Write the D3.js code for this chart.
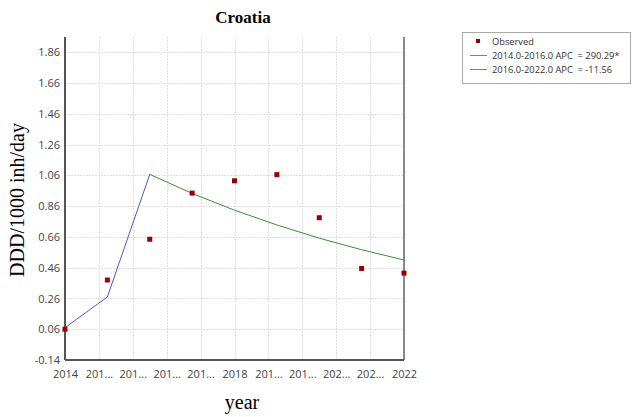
<!DOCTYPE html>
<meta charset="utf-8">
<html>
<head>
<script src="https://d3js.org/d3.v7.min.js" charset="utf-8"></script>
<style type="text/css">
    body { margin: 0; background: #fff; }
    .axis path, .axis line { fill: none; stroke: #555; shape-rendering: crispEdges; }
    .axis text { font-family: "Open Sans", sans-serif; font-size: 11px; fill: #444; }
    .grid line { stroke: #dedede; stroke-dasharray: 2,1; shape-rendering: crispEdges; }
    .legend text { font-family: "Open Sans", sans-serif; font-size: 9.3px; fill: #333; white-space: pre; }
</style>
</head>
<body>
<div id="chart"></div>
<script type="text/javascript">
// observed data
var years = [2014, 2015, 2016, 2017, 2018, 2019, 2020, 2021, 2022];
var observed = [0.06, 0.38, 0.645, 0.945, 1.025, 1.065, 0.785, 0.455, 0.425];

// fitted joinpoint segments
var seg1Years = [2014, 2015, 2016];
var seg1Values = [0.07, 0.27, 1.067];
var seg2Years = [2016, 2017, 2018, 2019, 2020, 2021, 2022];
var seg2Values = [1.067, 0.943, 0.834, 0.738, 0.652, 0.577, 0.51];

// axis ticks
var xTicks = [2014, 2014.8, 2015.6, 2016.4, 2017.2, 2018, 2018.8, 2019.6, 2020.4, 2021.2, 2022];
var xTickLabels = ["2014", "201...", "201...", "201...", "201...", "2018", "201...", "201...", "202...", "202...", "2022"];
var yTicks = [-0.14, 0.06, 0.26, 0.46, 0.66, 0.86, 1.06, 1.26, 1.46, 1.66, 1.86];

var legendLabels = ["Observed", "2014.0-2016.0 APC  = 290.29*", "2016.0-2022.0 APC  = -11.56"];

var canvas_width = 633;
var canvas_height = 417;
var plotLeft = 65, plotRight = 404, plotTop = 37, plotBottom = 360;

var svg = d3.select("#chart").append("svg")
    .attr("width", canvas_width)
    .attr("height", canvas_height);

var xScale = d3.scaleLinear().domain([2014, 2022]).range([plotLeft, plotRight]);
var yScale = d3.scaleLinear().domain([-0.14, 1.96]).range([plotBottom, plotTop]);

// gridlines
svg.append("g").attr("class", "grid")
    .selectAll("line").data(xTicks.slice(1)).enter().append("line")
    .attr("x1", function(d) { return Math.round(xScale(d)) + 0.5; })
    .attr("x2", function(d) { return Math.round(xScale(d)) + 0.5; })
    .attr("y1", plotTop).attr("y2", plotBottom);
svg.append("g").attr("class", "grid")
    .selectAll("line").data(yTicks.slice(1)).enter().append("line")
    .attr("x1", plotLeft).attr("x2", plotRight)
    .attr("y1", function(d) { return Math.round(yScale(d)) + 0.5; })
    .attr("y2", function(d) { return Math.round(yScale(d)) + 0.5; });

// axes
var xAxis = d3.axisBottom(xScale).tickValues(xTicks).tickSize(0).tickPadding(10)
    .tickFormat(function(d, i) { return xTickLabels[i]; });
var yAxis = d3.axisLeft(yScale).tickValues(yTicks).tickSize(0).tickPadding(5)
    .tickFormat(function(d) { return d.toFixed(2); });

svg.append("g").attr("class", "x axis")
    .attr("transform", "translate(0," + plotBottom + ")")
    .call(xAxis)
    .select(".domain").attr("d", "M" + plotLeft + ",0H" + plotRight)
    .attr("stroke-width", 1.5);

svg.append("g").attr("class", "y axis")
    .attr("transform", "translate(" + plotLeft + ",0)")
    .call(yAxis)
    .select(".domain").attr("d", "M0," + plotTop + "V" + plotBottom)
    .attr("stroke-width", 1.5);

// right border
svg.append("line")
    .attr("x1", plotRight).attr("x2", plotRight).attr("y1", plotTop).attr("y2", plotBottom)
    .attr("stroke", "#666").attr("stroke-width", 1.5);

// fitted lines
var line = d3.line()
    .x(function(d) { return xScale(d[0]); })
    .y(function(d) { return yScale(d[1]); });

svg.append("path")
    .datum(d3.zip(seg1Years, seg1Values))
    .attr("fill", "none").attr("stroke", "#5555cc").attr("stroke-width", 1)
    .attr("d", line);
svg.append("path")
    .datum(d3.zip(seg2Years, seg2Values))
    .attr("fill", "none").attr("stroke", "#3d8a3d").attr("stroke-width", 1)
    .attr("d", line);

// observed points
svg.selectAll("rect.obs")
    .data(d3.zip(years, observed))
    .enter().append("rect")
    .attr("class", "obs")
    .attr("x", function(d) { return xScale(d[0]) - 2.5; })
    .attr("y", function(d) { return yScale(d[1]) - 2.5; })
    .attr("width", 5).attr("height", 5)
    .attr("fill", "#990000");

// title
svg.append("text")
    .attr("x", 243).attr("y", 23)
    .attr("text-anchor", "middle")
    .style("font-family", "Liberation Serif, serif")
    .style("font-weight", "bold")
    .style("font-size", "17px")
    .text("Croatia");

// axis labels
svg.append("text")
    .attr("text-anchor", "middle")
    .attr("transform", "translate(242,409)")
    .style("font-family", "Liberation Serif, serif")
    .style("font-size", "20px")
    .text("year");

svg.append("text")
    .attr("text-anchor", "middle")
    .attr("transform", "translate(24,200)rotate(-90)")
    .style("font-family", "Liberation Serif, serif")
    .style("font-size", "20px")
    .text("DDD/1000 inh/day");

// legend
var legend = svg.append("g").attr("class", "legend");
legend.append("rect")
    .attr("x", 462.5).attr("y", 32.5).attr("width", 168).attr("height", 51)
    .attr("fill", "#fff").attr("stroke", "#aaa");
legend.append("rect")
    .attr("x", 476).attr("y", 39).attr("width", 4).attr("height", 4)
    .attr("fill", "#990000");
legend.append("line")
    .attr("x1", 470).attr("x2", 487).attr("y1", 55.5).attr("y2", 55.5)
    .attr("stroke", "#7777dd");
legend.append("line")
    .attr("x1", 470).attr("x2", 487).attr("y1", 69.5).attr("y2", 69.5)
    .attr("stroke", "#5a9a5a");
legend.selectAll("text.lab")
    .data(legendLabels).enter().append("text")
    .attr("class", "lab")
    .attr("x", 492)
    .attr("y", function(d, i) { return 45 + i * 14; })
    .text(function(d) { return d; });
</script>
</body>
</html>
